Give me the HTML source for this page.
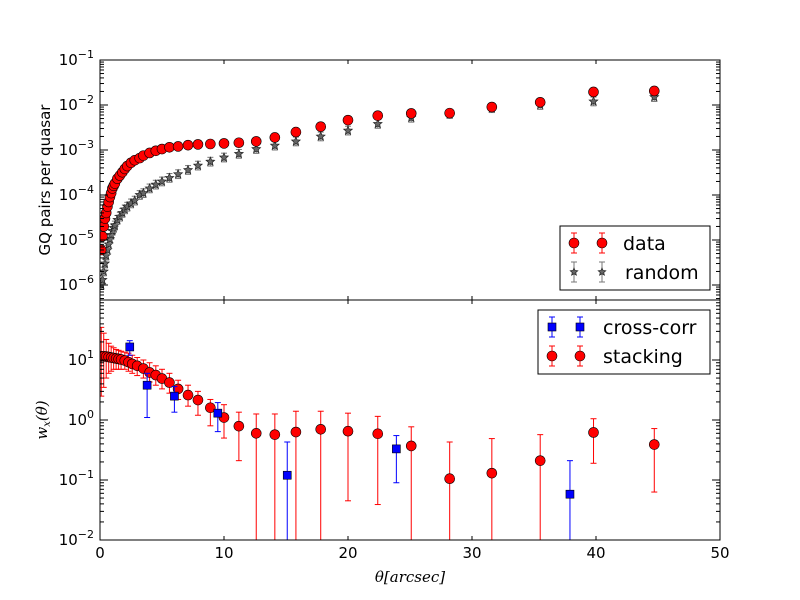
<!DOCTYPE html>
<html><head><meta charset="utf-8"><style>
html,body{margin:0;padding:0;background:#fff;}
svg{display:block;font-family:"DejaVu Sans","Liberation Sans",sans-serif;}
</style></head><body>
<svg id="chart" width="800" height="600" viewBox="0 0 800 600" xmlns="http://www.w3.org/2000/svg"></svg>
<script>
// ---- top panel data ----
const topX = [0.1,0.2,0.3,0.4,0.5,0.6,0.7,0.8,0.9,1.0,1.1,1.2,1.4,1.6,1.8,2.0,2.2,2.5,2.8,3.2,3.5,4.0,4.5,5.0,5.6,6.3,7.1,7.9,8.9,10,11.2,12.6,14.1,15.8,17.8,20,22.4,25.1,28.2,31.6,35.5,39.8,44.7];
const dataY = [6e-6,1.2e-5,2e-5,3e-5,4e-5,5.5e-5,7e-5,9e-5,1.1e-4,1.4e-4,1.6e-4,1.8e-4,2.3e-4,2.7e-4,3.2e-4,3.8e-4,4.4e-4,5.2e-4,5.9e-4,6.6e-4,7.5e-4,8.6e-4,9.6e-4,1.05e-3,1.15e-3,1.2e-3,1.28e-3,1.33e-3,1.36e-3,1.4e-3,1.45e-3,1.55e-3,1.9e-3,2.5e-3,3.3e-3,4.6e-3,5.8e-3,6.5e-3,6.6e-3,9e-3,1.15e-2,1.95e-2,2.05e-2];
const randY = [1e-6,1.3e-6,2e-6,3e-6,4.5e-6,6e-6,8e-6,1.05e-5,1.3e-5,1.6e-5,1.85e-5,2.1e-5,2.8e-5,3.3e-5,4e-5,4.8e-5,5.5e-5,6.5e-5,7.5e-5,1e-4,1.1e-4,1.4e-4,1.7e-4,2e-4,2.4e-4,2.9e-4,3.6e-4,4.5e-4,5.5e-4,6.8e-4,8.2e-4,1.05e-3,1.25e-3,1.55e-3,2e-3,2.7e-3,3.8e-3,5.2e-3,6.3e-3,8.5e-3,1.0e-2,1.2e-2,1.5e-2];
// ---- bottom panel data ----
const stackX = [0.1,0.3,0.5,0.7,0.9,1.1,1.3,1.5,1.7,2.0,2.3,2.6,3.0,3.5,4.0,4.5,5.0,5.6,6.3,7.1,7.9,8.9,10,11.2,12.6,14.1,15.8,17.8,20,22.4,25.1,28.2,31.6,35.5,39.8,44.7];
const stackY = [11.5,11.5,11.4,11.2,11,10.8,10.6,10.4,10.2,9.8,9.2,8.6,8.0,7.2,6.2,5.6,4.9,4.2,3.3,2.6,2.15,1.6,1.1,0.79,0.6,0.57,0.63,0.7,0.65,0.59,0.37,0.105,0.13,0.21,0.62,0.39];
const stackHi = [35,28,22,19,17,16,15,14.5,14,13.5,13,12,11,10,9,8,7,6,4.6,3.8,3.0,2.2,1.8,1.35,1.26,1.26,1.4,1.4,1.3,1.15,0.77,0.43,0.49,0.57,1.05,0.72];
const stackLo = [2.5,3.5,5,6,6.5,7,7,7,7,7,6.5,6,5.5,5,4.3,3.8,3.3,2.8,2.2,1.7,1.2,0.8,0.5,0.21,0.001,0.001,0.001,0.001,0.045,0.039,0.001,0.001,0.001,0.001,0.19,0.063];
const ccX = [2.4,3.8,6.0,9.5,15.1,23.9,37.9];
const ccY = [16.5,3.8,2.5,1.3,0.12,0.33,0.058];
const ccHi = [21,6,3.6,1.95,0.43,0.55,0.21];
const ccLo = [12,1.1,1.35,0.64,0.001,0.09,0.001];
const xTicks = [0,10,20,30,40,50];
const topTickExp = [-1,-2,-3,-4,-5,-6];
const botTickExp = [1,0,-1,-2];

const NS="http://www.w3.org/2000/svg";
const svg=document.getElementById('chart');
function mk(tag,attrs,parent){const e=document.createElementNS(NS,tag);for(const k in attrs)e.setAttribute(k,attrs[k]);(parent||svg).appendChild(e);return e;}
const L=100,R=720;
const sx=v=>L+(v/50)*(R-L);
const syTop=v=>60+(-1-Math.log10(v))*45;
const syBotRaw=v=>540-(Math.log10(v)+2)*60;
const syBot=v=>Math.min(545,Math.max(295,syBotRaw(v)));

const defs=mk('defs',{});
const c1=mk('clipPath',{id:'ct'},defs);mk('rect',{x:L,y:60,width:620,height:240},c1);
const c2=mk('clipPath',{id:'cb'},defs);mk('rect',{x:L,y:300,width:620,height:240},c2);

const gTop=mk('g',{'clip-path':'url(#ct)'});


const gBot=mk('g',{'clip-path':'url(#cb)'});



function errbar(g,x,y1,y2,col){
  mk('line',{x1:x,x2:x,y1:y1,y2:y2,stroke:col,'stroke-width':1},g);
  mk('line',{x1:x-3,x2:x+3,y1:y1,y2:y1,stroke:col,'stroke-width':1},g);
  mk('line',{x1:x-3,x2:x+3,y1:y2,y2:y2,stroke:col,'stroke-width':1},g);
}
function star(g,cx,cy,r,fill){
  let p=[];for(let i=0;i<10;i++){const a=-Math.PI/2+i*Math.PI/5;const rr=i%2?r*0.45:r;p.push((cx+rr*Math.cos(a)).toFixed(1)+','+(cy+rr*Math.sin(a)).toFixed(1));}
  return mk('polygon',{points:p.join(' '),fill:fill,stroke:'#222','stroke-width':0.7},g);
}
for(let i=0;i<topX.length;i++){
  const x=sx(topX[i]),y=syTop(randY[i]);
  errbar(gTop,x,syTop(randY[i]*1.25),syTop(randY[i]*0.8),'#777');
  const s=star(gTop,x,y,4.5,'#666');
  
  
}
for(let i=0;i<topX.length;i++){
  const x=sx(topX[i]),y=syTop(dataY[i]);
  errbar(gTop,x,syTop(dataY[i]*1.2),syTop(dataY[i]*0.83),'red');
  const c=mk('circle',{cx:x,cy:y,r:5,fill:'red',stroke:'#000','stroke-width':0.6},gTop);
  
  
}
for(let i=0;i<stackX.length;i++){
  errbar(gBot,sx(stackX[i]),syBot(stackHi[i]),syBot(stackLo[i]),'red');
}
for(let i=0;i<stackX.length;i++){
  const c=mk('circle',{cx:sx(stackX[i]),cy:syBot(stackY[i]),r:5,fill:'red',stroke:'#000','stroke-width':0.6},gBot);
  
  
}
for(let i=0;i<ccX.length;i++){
  const x=sx(ccX[i]);
  errbar(gBot,x,syBot(ccHi[i]),syBot(ccLo[i]),'blue');
  const r=mk('rect',{x:x-4,y:syBot(ccY[i])-4,width:8,height:8,fill:'blue',stroke:'#000','stroke-width':0.6},gBot);
  
  
}

const f1=mk('rect',{x:L,y:60,width:620,height:240,fill:'none',stroke:'#000','stroke-width':1});


const f2=mk('rect',{x:L,y:300,width:620,height:240,fill:'none',stroke:'#000','stroke-width':1});



function tick(x1,y1,x2,y2){mk('line',{x1:x1,y1:y1,x2:x2,y2:y2,stroke:'#000','stroke-width':1});}
for(const t of xTicks){
  const x=sx(t);
  tick(x,60,x,64);tick(x,300,x,296);tick(x,300,x,304);tick(x,540,x,536);
  const tx=mk('text',{x:x,y:558,'font-size':15,'text-anchor':'middle'});tx.textContent=t;
  
  
}
function expLabel(x,y,e){
  const t=mk('text',{x:x,y:y,'font-size':15,'text-anchor':'end'});
  
  
  const a=mk('tspan',{},t);a.textContent='10';
  const b=mk('tspan',{dy:-7,'font-size':11},t);b.textContent=String(e).replace('-','\u2212');
}
for(const e of topTickExp){
  const y=syTop(Math.pow(10,e));
  tick(L,y,L+8,y);tick(R,y,R-8,y);
  expLabel(L-6,y+5,e);
  for(let m=2;m<10;m++){const ym=syTop(m*Math.pow(10,e-1));if(ym>60&&ym<300){tick(L,ym,L+4,ym);tick(R,ym,R-4,ym);}}
}
for(const e of botTickExp){
  const y=syBotRaw(Math.pow(10,e));
  tick(L,y,L+8,y);tick(R,y,R-8,y);
  expLabel(L-6,y+5,e);
  for(let m=2;m<10;m++){const ym=syBotRaw(m*Math.pow(10,e));if(ym>300&&ym<540){tick(L,ym,L+4,ym);tick(R,ym,R-4,ym);}}
}
const yl=mk('text',{x:0,y:0,'font-size':15,'text-anchor':'middle',transform:'translate(50,180) rotate(-90)'});
yl.textContent='GQ pairs per quasar';


const yl2=mk('text',{x:0,y:0,'font-size':15,'text-anchor':'middle','font-family':'"DejaVu Serif",serif','font-style':'italic',transform:'translate(47,420) rotate(-90)'});
yl2.innerHTML='w<tspan font-size="10" dy="3">x</tspan><tspan dy="-3">(θ)</tspan>';


const xl=mk('text',{x:410,y:582,'font-size':15,'text-anchor':'middle','font-family':'"DejaVu Serif",serif','font-style':'italic'});
xl.textContent='θ[arcsec]';



function legend(x,y,w,h,items,name){
  const g=mk('g',{});
  
  
  mk('rect',{x:x,y:y,width:w,height:h,fill:'#fff',stroke:'#000','stroke-width':1},g);
  items.forEach((it,i)=>{
    const cy=y+17+i*29;
    const e=mk('g',{},g);
    
    
    for(const dx of [14,42]){
      const mx=x+dx;
      errbar(e,mx,cy-10,cy+10,it.ec);
      if(it.m==='c')mk('circle',{cx:mx,cy:cy,r:5,fill:'red',stroke:'#000','stroke-width':0.6},e);
      else if(it.m==='s')mk('rect',{x:mx-4,y:cy-4,width:8,height:8,fill:'blue',stroke:'#000','stroke-width':0.6},e);
      else star(e,mx,cy,4,'#666');
    }
    const t=mk('text',{x:x+it.tx,y:cy+7,'font-size':19},e);t.textContent=it.label;
  });
}
legend(560,226,150,64,[{label:'data',ec:'red',m:'c',tx:63},{label:'random',ec:'#777',m:'st',tx:65}],'top-legend');
legend(538,310,172,64,[{label:'cross-corr',ec:'blue',m:'s',tx:65},{label:'stacking',ec:'red',m:'c',tx:65}],'bottom-legend');
</script>
</body></html>
